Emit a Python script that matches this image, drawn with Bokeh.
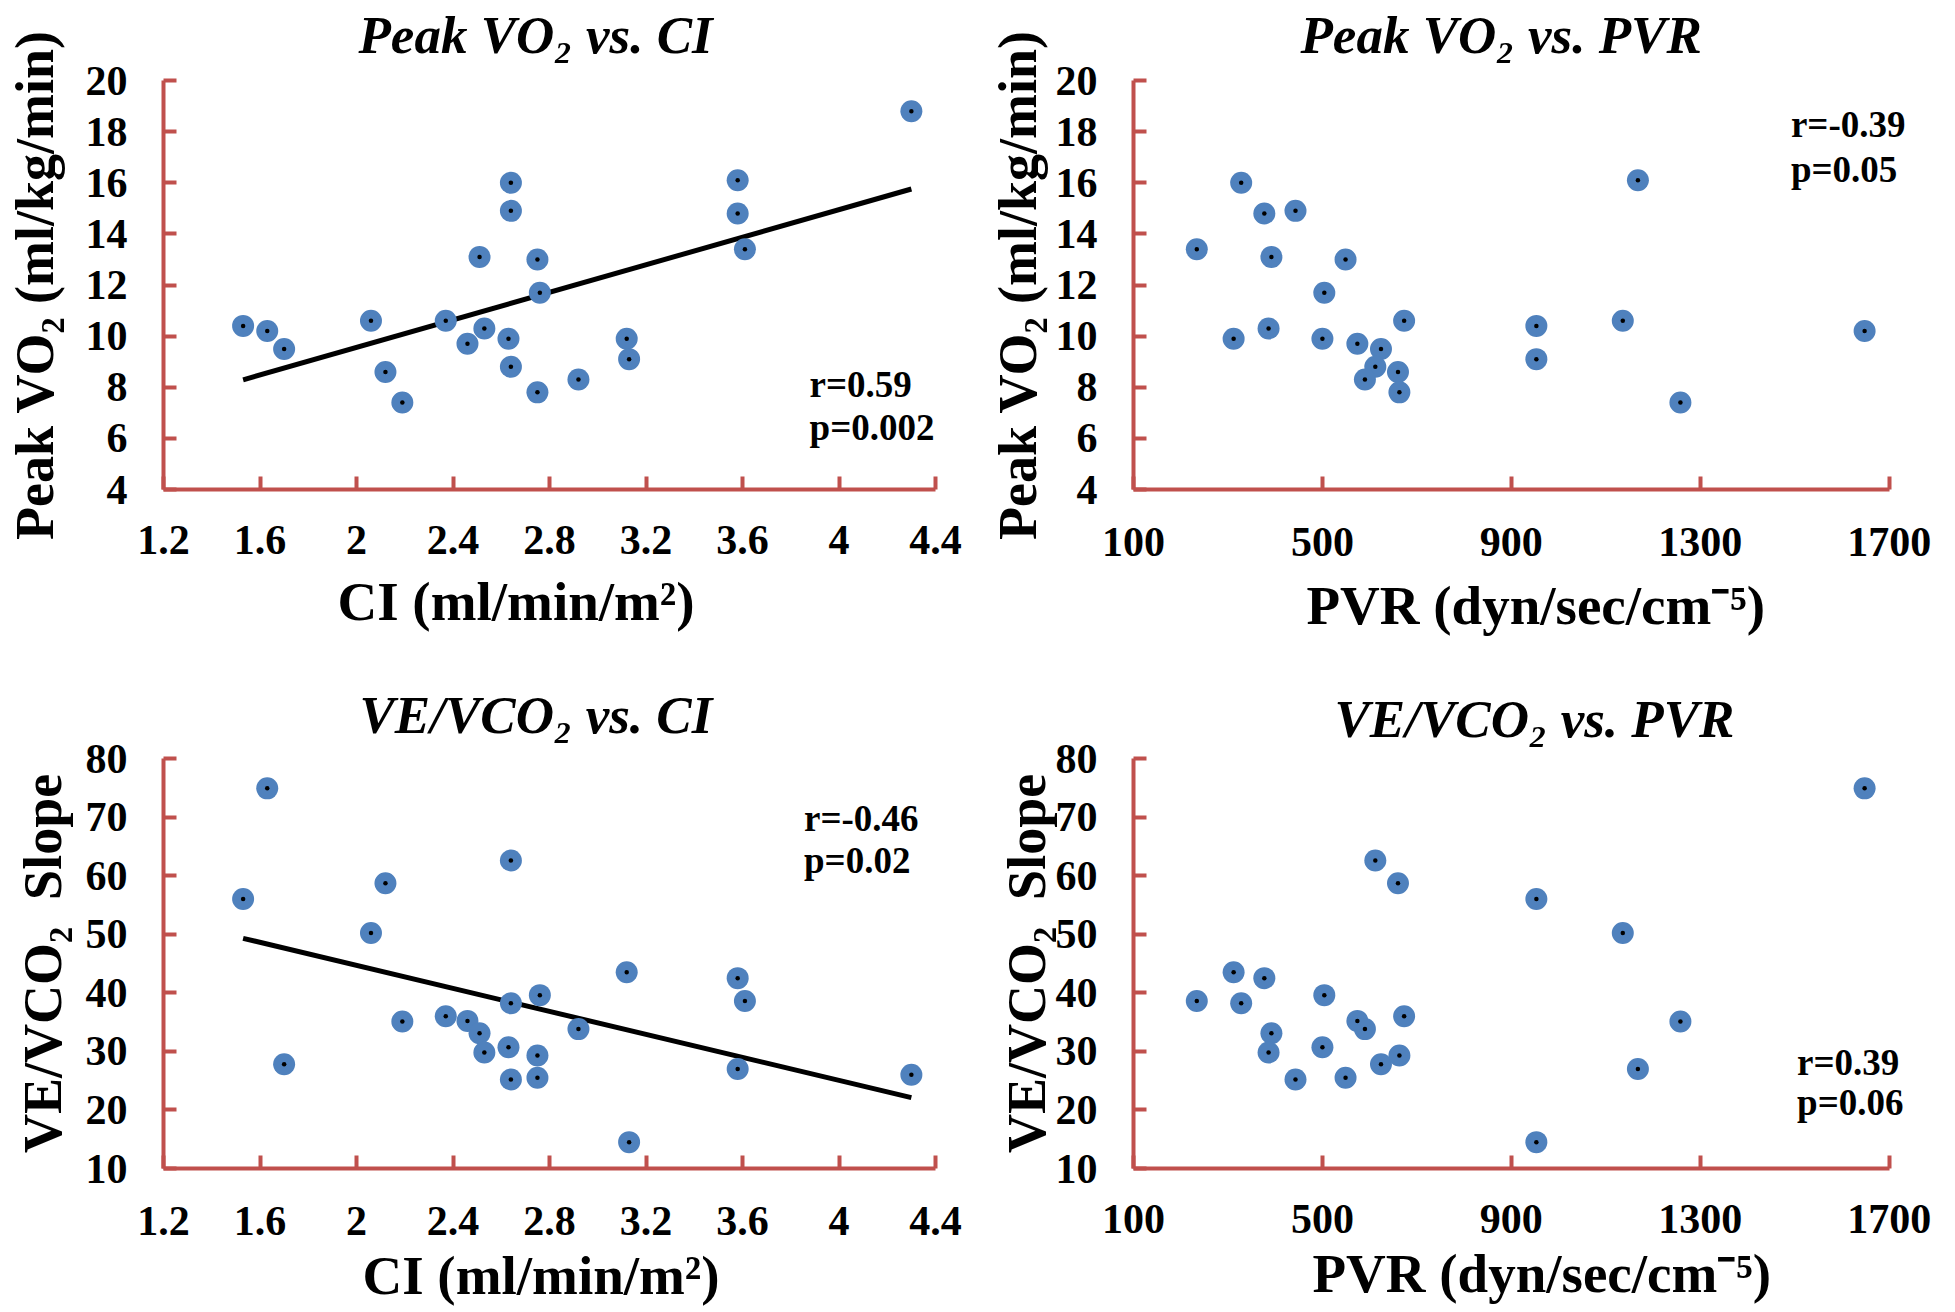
import numpy as np
from bokeh.plotting import figure
from bokeh.layouts import column, row
from bokeh.models import FixedTicker, Title, Label, ColumnDataSource, LinearAxis
from bokeh.embed import file_html
from bokeh.resources import INLINE

# ---------------- data (one entry per patient) ----------------
ci = [1.53, 1.63, 1.70, 2.06, 2.12, 2.19, 2.37, 2.46, 2.51, 2.53, 2.63, 2.64,
      2.64, 2.64, 2.75, 2.76, 2.75, 2.92, 3.12, 3.13, 3.58, 3.58, 3.61, 4.30]
pvr = [953, 1648, 624, 1136, 660, 1258, 673, 574, 392, 386, 500, 328,
       443, 612, 549, 504, 663, 590, 312, 953, 1168, 377, 234, None]
peak_vo2 = [10.4, 10.2, 9.5, 10.6, 8.6, 7.4, 10.6, 9.7, 13.1, 10.3, 9.9, 16.0,
            14.9, 8.8, 13.0, 11.7, 7.8, 8.3, 9.9, 9.1, 16.1, 14.8, 13.4, 18.8]
ve_vco2 = [56.0, 74.9, 27.8, 50.2, 58.7, 35.1, 36.0, 35.2, 33.1, 29.8, 30.7, 38.2,
           25.2, 62.6, 25.5, 39.6, 29.3, 33.8, 43.5, 14.5, 27.0, 42.5, 38.6, 26.0]

ci_ticks = [1.2, 1.6, 2.0, 2.4, 2.8, 3.2, 3.6, 4.0, 4.4]
ci_tick_labels = ["1.2", "1.6", "2", "2.4", "2.8", "3.2", "3.6", "4", "4.4"]
pvr_ticks = [100, 500, 900, 1300, 1700]
pvr_tick_labels = ["100", "500", "900", "1300", "1700"]
vo2_ticks = [4, 6, 8, 10, 12, 14, 16, 18, 20]
ve_ticks = [10, 20, 30, 40, 50, 60, 70, 80]

panel_titles = ["Peak VO\u2082 vs. CI", "Peak VO\u2082 vs. PVR",
                "VE/VCO\u2082 vs. CI", "VE/VCO\u2082 vs. PVR"]
r_texts = ["r=0.59", "r=-0.39", "r=-0.46", "r=0.39"]
p_texts = ["p=0.002", "p=0.05", "p=0.02", "p=0.06"]

CI_LABEL = "CI (ml/min/m\u00b2)"
PVR_LABEL = "PVR (dyn/sec/cm\u207b\u2075)"
VO2_LABEL = "Peak VO\u2082 (ml/kg/min)"
VE_LABEL = "VE/VCO\u2082\u00a0 Slope"

# ---------------- styling ----------------
FONT = "Liberation Serif"
AXIS_RED = "#C0504D"
DOT_BLUE = "#4F81BD"

valid = [i for i, v in enumerate(pvr) if v is not None]
pvr_v = [pvr[i] for i in valid]
vo2_v = [peak_vo2[i] for i in valid]
ve_v = [ve_vco2[i] for i in valid]


def panel(x, y, x_rng, x_bounds, y_rng, x_ticks, x_labels, y_ticks, title,
          x_title, y_title, r_text, p_text, stat_xy, fit, width, height, borders,
          title_offset, title_gap, xtick_standoff, xlab_offset,
          xlab_standoff, ylab_standoff):
    bl, br, bt, bb = borders
    p = figure(width=width, height=height, x_range=x_rng, y_range=y_rng,
               title=None, output_backend="svg", toolbar_location=None,
               min_border_left=bl, min_border_right=br,
               min_border_top=bt, min_border_bottom=bb)
    p.outline_line_color = None
    p.grid.visible = False
    p.background_fill_color = "white"
    p.border_fill_color = "white"

    xa = p.below[0]
    ya = p.left[0]
    for ax in (xa, ya):
        ax.axis_line_color = AXIS_RED
        ax.axis_line_width = 4
        ax.major_tick_line_color = AXIS_RED
        ax.major_tick_line_width = 4
        ax.major_tick_in = 13
        ax.major_tick_out = 0
        ax.minor_tick_line_color = None
        ax.major_label_text_font = FONT
        ax.major_label_text_font_size = "42px"
        ax.major_label_text_font_style = "bold"
        ax.major_label_text_color = "black"

    xa.ticker = FixedTicker(ticks=x_ticks)
    xa.major_label_overrides = {t: s for t, s in zip(x_ticks, x_labels)}
    xa.major_label_standoff = xtick_standoff
    xa.bounds = x_bounds
    ya.ticker = FixedTicker(ticks=y_ticks)
    ya.major_label_standoff = 36
    ya.axis_label = y_title
    ya.axis_label_text_font = FONT
    ya.axis_label_text_font_size = "54px"
    ya.axis_label_text_font_style = "bold"
    ya.axis_label_text_color = "black"
    ya.axis_label_standoff = ylab_standoff

    # blank spacer next to the frame, then the panel title above it
    spacer = LinearAxis(ticker=FixedTicker(ticks=[x_ticks[0]]),
                        major_label_overrides={x_ticks[0]: ""},
                        major_tick_out=title_gap, major_tick_in=0,
                        minor_tick_out=0, minor_tick_in=0,
                        major_label_standoff=0, major_label_text_font_size="1px",
                        axis_line_color=None, major_tick_line_color="white",
                        major_tick_line_width=1, minor_tick_line_color=None)
    p.add_layout(spacer, "above")
    p.add_layout(Title(text=title, align="left", offset=title_offset,
                       standoff=0, text_font=FONT, text_font_size="53px",
                       text_font_style="bold italic", text_color="black"),
                 "above")

    p.add_layout(Title(text=x_title, align="left", offset=xlab_offset,
                       standoff=xlab_standoff, text_font=FONT,
                       text_font_size="55px", text_font_style="bold",
                       text_color="black"), "below")

    if fit:
        m, b = np.polyfit(x, y, 1)
        xs = np.array([min(x), max(x)])
        p.line(xs, m * xs + b, line_color="black", line_width=5)

    src = ColumnDataSource(dict(x=x, y=y))
    p.scatter("x", "y", source=src, marker="circle", size=22,
              fill_color=DOT_BLUE, line_color=None)
    p.scatter("x", "y", source=src, marker="circle", size=4.5,
              fill_color="black", line_color=None)

    sx, sy1, sy2 = stat_xy
    for txt, yy in ((r_text, sy1), (p_text, sy2)):
        p.add_layout(Label(x=sx, y=yy, text=txt, text_font=FONT,
                           text_font_size="37px", text_font_style="bold",
                           text_color="black", text_baseline="middle"))
    return p


f1 = panel(ci, peak_vo2, (1.2, 4.4), (1.2, 4.4), (4, 20), ci_ticks, ci_tick_labels,
           vo2_ticks, panel_titles[0], CI_LABEL, VO2_LABEL, r_texts[0], p_texts[0],
           (3.878, 8.09, 6.43), True, 965, 660, (163, 30, 80, 171),
           195, 17, 36, 174, 24, 18)
f2 = panel(pvr_v, vo2_v, (100, 1760), (100, 1700), (4, 20), pvr_ticks, pvr_tick_labels,
           vo2_ticks, panel_titles[1], PVR_LABEL, VO2_LABEL, r_texts[1], p_texts[1],
           (1492, 18.28, 16.52), False, 989, 660, (168, 37, 80, 171),
           167, 17, 38, 173, 28, 5)
f3 = panel(ci, ve_vco2, (1.2, 4.4), (1.2, 4.4), (10, 80), ci_ticks, ci_tick_labels,
           ve_ticks, panel_titles[2], CI_LABEL, VE_LABEL, r_texts[2], p_texts[2],
           (3.855, 69.76, 62.58), True, 965, 651, (163, 30, 98, 143),
           196, 15, 38, 199, 10, 10)
f4 = panel(pvr_v, ve_v, (100, 1760), (100, 1700), (10, 80), pvr_ticks, pvr_tick_labels,
           ve_ticks, panel_titles[3], PVR_LABEL, VE_LABEL, r_texts[3], p_texts[3],
           (1505, 28.1, 21.27), False, 989, 651, (168, 37, 98, 143),
           201, 11, 36, 179, 10, -4)

layout = column(row(f1, f2), row(f3, f4))
open("out.html", "w").write(file_html(layout, INLINE))
